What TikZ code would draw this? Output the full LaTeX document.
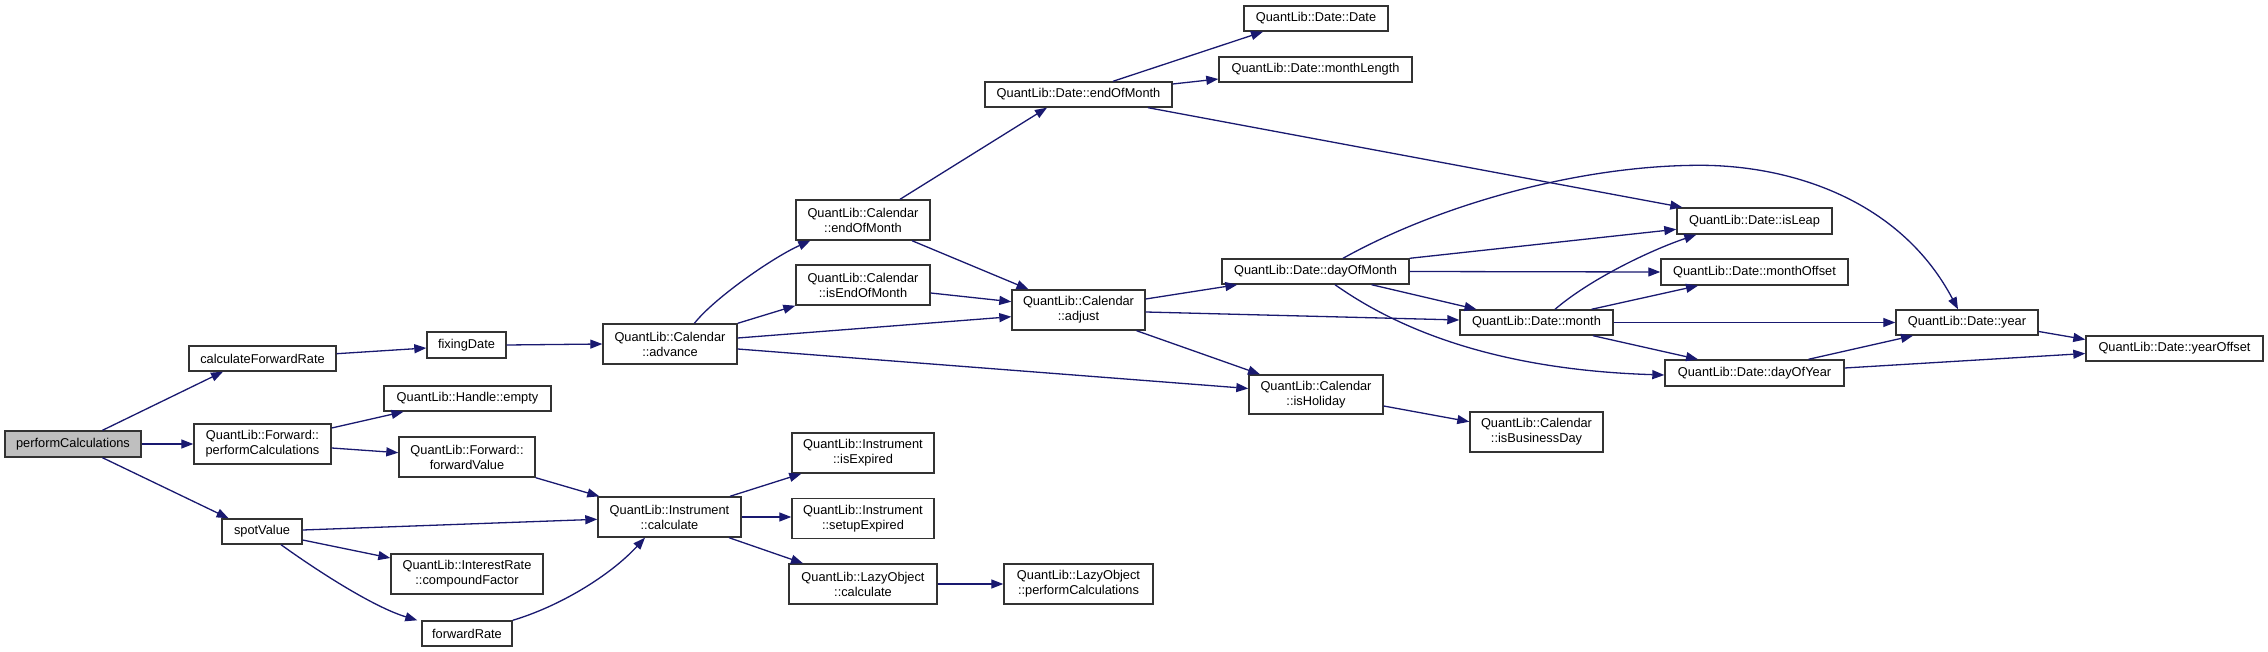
\documentclass[tikz,border=0pt]{standalone}
\usepackage{fontspec}
\setmainfont{Liberation Sans}
\usetikzlibrary{arrows.meta,calc}
\definecolor{edgeblue}{HTML}{191970}
\definecolor{rootgray}{HTML}{BFBFBF}
\begin{document}
\begin{tikzpicture}[x=1pt,y=-1pt,
  nbox/.style={draw=black!80,line width=1.4pt,fill=white,inner sep=0pt,align=center,
    font=\fontsize{12.8}{15}\selectfont},
  one/.style={nbox,minimum height=25pt},
  two/.style={nbox,minimum height=40pt},
  conn/.style={draw=edgeblue,line width=1.3pt,-{Triangle[length=12pt,width=9pt]}}]
\fill[white] (0,0) rectangle (2268,652);
\useasboundingbox (0,0) rectangle (2268,652);
% nodes
\node[one,fill=rootgray,minimum width=136pt,minimum height=26pt] (pc) at (73,444) {performCalculations};
\node[one,minimum width=147pt] (cfr) at (262.5,358.5) {calculateForwardRate};
\node[one,minimum width=79pt,minimum height=26pt] (fd) at (466.5,345) {fixingDate};
\node[one,minimum width=167pt] (he) at (467.5,398.5) {QuantLib::Handle::empty};
\node[two,minimum width=137pt] (fpc) at (262.5,444) {QuantLib::Forward::\\performCalculations};
\node[two,minimum width=136pt] (ffv) at (467,457) {QuantLib::Forward::\\forwardValue};
\node[one,minimum width=80pt] (sv) at (262,531.5) {spotValue};
\node[two,minimum width=152pt] (icf) at (467,574) {QuantLib::InterestRate\\::compoundFactor};
\node[one,minimum width=90pt] (fr) at (467,633.5) {forwardRate};
\node[two,minimum width=134pt] (cadv) at (670,344) {QuantLib::Calendar\\::advance};
\node[two,minimum width=134pt] (ceom) at (863,220) {QuantLib::Calendar\\::endOfMonth};
\node[two,minimum width=134pt] (cieom) at (863,285) {QuantLib::Calendar\\::isEndOfMonth};
\node[two,minimum width=133pt] (cadj) at (1078.5,310) {QuantLib::Calendar\\::adjust};
\node[two,minimum width=143pt] (icalc) at (669.5,517) {QuantLib::Instrument\\::calculate};
\node[two,minimum width=142pt] (iexp) at (863,453) {QuantLib::Instrument\\::isExpired};
\node[two,minimum width=142pt] (isetup) at (863,518.5) {QuantLib::Instrument\\::setupExpired};
\node[two,minimum width=148pt] (lcalc) at (863,584) {QuantLib::LazyObject\\::calculate};
\node[two,minimum width=149pt] (lpc) at (1078.5,584) {QuantLib::LazyObject\\::performCalculations};
\node[one,minimum width=144pt] (ddate) at (1316,18.5) {QuantLib::Date::Date};
\node[one,minimum width=193pt] (dml) at (1315.5,69.5) {QuantLib::Date::monthLength};
\node[one,minimum width=187pt] (deom) at (1078.5,94.5) {QuantLib::Date::endOfMonth};
\node[one,minimum width=187pt] (ddom) at (1315.5,271.5) {QuantLib::Date::dayOfMonth};
\node[two,minimum width=134pt,minimum height=39pt] (dhol) at (1316,394.5) {QuantLib::Calendar\\::isHoliday};
\node[two,minimum width=133pt] (dbd) at (1536.5,432) {QuantLib::Calendar\\::isBusinessDay};
\node[one,minimum width=153pt] (dmonth) at (1536.5,322.5) {QuantLib::Date::month};
\node[one,minimum width=155pt,minimum height=26pt] (dleap) at (1754.5,221) {QuantLib::Date::isLeap};
\node[one,minimum width=187pt,minimum height=26pt] (dmo) at (1754.5,272) {QuantLib::Date::monthOffset};
\node[one,minimum width=179pt,minimum height=26pt] (ddoy) at (1754.5,373) {QuantLib::Date::dayOfYear};
\node[one,minimum width=142pt] (dyear) at (1967,322.5) {QuantLib::Date::year};
\node[one,minimum width=177pt] (dyo) at (2174.5,348.5) {QuantLib::Date::yearOffset};
% connectors
\path[conn] ($(pc.north)+(29.5,0)$) -- ($(cfr.south)+(-39.5,0)$);
\path[conn] (pc.east) -- (fpc.west);
\path[conn] ($(pc.south)+(29.5,0)$) -- ($(sv.north)+(-33.4,0)$);
\path[conn] ($(cfr.east)+(0,-4.8)$) -- ($(fd.west)+(0,3)$);
\path[conn] (fd.east) -- (cadv.west);
\path[conn] ($(fpc.east)+(0,-16)$) -- ($(he.south)+(-64,0)$);
\path[conn] ($(fpc.east)+(0,4)$) -- ($(ffv.west)+(0,-4.3)$);
\path[conn] (ffv.south east) -- ($(icalc.north west)+(2,0)$);
\path[conn] ($(sv.east)+(0,-1.5)$) -- ($(icalc.west)+(0,2.3)$);
\path[conn] ($(sv.east)+(0,8.5)$) -- ($(icf.west)+(0,-16)$);
\path[conn] ($(sv.south)+(19,0)$) .. controls ($(sv.south)+(58,28)$) and ($(fr.north west)+(-47,-13)$) .. ($(fr.north west)+(-4,0)$);
\path[conn] (fr.north east) .. controls ($(fr.north east)+(47,-14)$) and ($(icalc.south)+(-59.5,38)$) .. ($(icalc.south)+(-24.5,0)$);
\path[conn] ($(cadv.north)+(24.4,0)$) .. controls ($(cadv.north)+(45,-26)$) and ($(ceom.south west)+(-21,16)$) .. ($(ceom.south west)+(15,0)$);
\path[conn] (cadv.north east) -- (cieom.south west);
\path[conn] ($(cadv.east)+(0,-6)$) -- ($(cadj.west)+(0,6.7)$);
\path[conn] ($(cadv.east)+(0,5)$) -- ($(dhol.west)+(0,-6)$);
\path[conn] ($(ceom.north)+(37,0)$) -- ($(deom.south)+(-31.5,0)$);
\path[conn] ($(ceom.south)+(49,0)$) -- ($(cadj.north)+(-50,0)$);
\path[conn] ($(cieom.east)+(0,8)$) -- ($(cadj.west)+(0,-8.3)$);
\path[conn] ($(cadj.east)+(0,-11)$) -- ($(ddom.south west)+(16,0)$);
\path[conn] ($(cadj.east)+(0,2)$) -- ($(dmonth.west)+(0,-2.5)$);
\path[conn] ($(cadj.south)+(58,0)$) -- ($(dhol.north)+(-56,0)$);
\path[conn] ($(deom.north)+(34.5,0)$) -- ($(ddate.south)+(-53,0)$);
\path[conn] ($(deom.east)+(0,-10.5)$) -- ($(dml.west)+(0,9.5)$);
\path[conn] ($(deom.south)+(69.5,0)$) -- ($(dleap.north west)+(6,0)$);
\path[conn] (ddom.north east) -- ($(dleap.west)+(0,8.3)$);
\path[conn] (ddom.east) -- (dmo.west);
\path[conn] ($(ddom.south)+(56,0)$) -- ($(dmonth.north)+(-60,0)$);
\path[conn] ($(ddom.south)+(19.5,0)$) .. controls ($(ddom.south)+(84.5,46)$) and ($(ddoy.west)+(-165,-3)$) .. ($(ddoy.west)+(0,2)$);
\path[conn] ($(ddom.north)+(27.5,0)$) .. controls ($(ddom.north)+(124.5,-54)$) and ($(dleap.north)+(-174.5,-42)$) .. ($(dleap.north)+(-54.5,-42)$)
  .. controls ($(dleap.north)+(35.5,-42)$) and ($(dyear.north)+(-67,-110)$) .. ($(dyear.north)+(-9,0)$);
\path[conn] ($(dmonth.north)+(18.5,0)$) .. controls ($(dmonth.north)+(53.5,-30)$) and ($(dleap.south west)+(-27,16)$) .. ($(dleap.south west)+(20,0)$);
\path[conn] ($(dmonth.north)+(55,0)$) -- ($(dmo.south)+(-56.5,0)$);
\path[conn] (dmonth.east) -- (dyear.west);
\path[conn] ($(dmonth.south)+(56.5,0)$) -- ($(ddoy.north)+(-56.5,0)$);
\path[conn] ($(ddoy.north)+(54,0)$) -- ($(dyear.south)+(-54,0)$);
\path[conn] ($(ddoy.east)+(0,-5)$) -- ($(dyo.west)+(0,5)$);
\path[conn] ($(dyear.east)+(0,9)$) -- ($(dyo.west)+(0,-9)$);
\path[conn] ($(dhol.east)+(0,11.5)$) -- ($(dbd.west)+(0,-10.3)$);
\path[conn] ($(icalc.north)+(60.5,0)$) -- ($(iexp.south west)+(10,0)$);
\path[conn] (icalc.east) -- (isetup.west |- icalc.east);
\path[conn] ($(icalc.south)+(59.5,0)$) -- ($(lcalc.north)+(-60,0)$);
\path[conn] (lcalc.east) -- (lpc.west);
\end{tikzpicture}
\end{document}
